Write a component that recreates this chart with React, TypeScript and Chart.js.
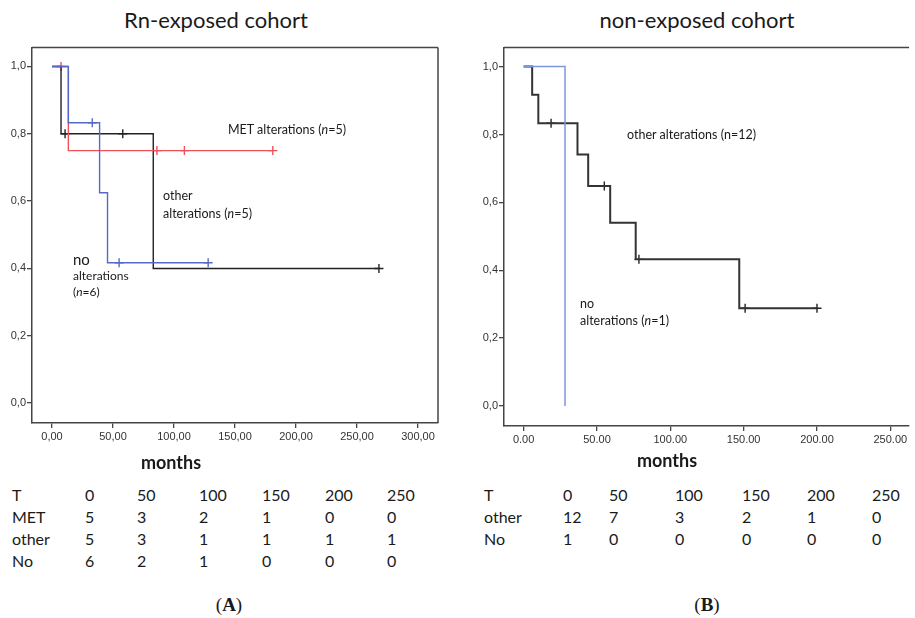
import React, { useEffect, useRef } from "react";
import { Chart, registerables } from "chart.js";
Chart.register(...registerables);

// ---------- Panel A: Rn-exposed cohort ----------
const aMetTimes = [0, 13.4, 181];
const aMetSurv = [1, 0.75, 0.75];
const aMetCensorTimes = [7.4, 86, 108.5, 181];
const aMetCensorSurv = [1, 0.75, 0.75, 0.75];

const aOtherTimes = [0, 7.4, 83, 268];
const aOtherSurv = [1, 0.8, 0.4, 0.4];
const aOtherCensorTimes = [10.7, 58, 268];
const aOtherCensorSurv = [0.8, 0.8, 0.4];

const aNoTimes = [0, 13.4, 39, 45.5, 128];
const aNoSurv = [1, 0.833, 0.625, 0.417, 0.417];
const aNoCensorTimes = [33, 55, 128];
const aNoCensorSurv = [0.833, 0.417, 0.417];

const aXTicks = [0, 50, 100, 150, 200, 250, 300];

// ---------- Panel B: non-exposed cohort ----------
const bOtherTimes = [0, 5.8, 10, 36.7, 44, 59, 76.4, 147, 200];
const bOtherSurv = [1, 0.917, 0.833, 0.741, 0.648, 0.54, 0.432, 0.288, 0.288];
const bOtherCensorTimes = [18.7, 55, 78.6, 151, 200];
const bOtherCensorSurv = [0.833, 0.648, 0.432, 0.288, 0.288];

const bNoTimes = [0, 28.2];
const bNoSurv = [1, 0];

const bXTicks = [0, 50, 100, 150, 200, 250];

const yTicks = [0, 0.2, 0.4, 0.6, 0.8, 1.0];

// ---------- Numbers at risk ----------
const riskTimes = ["0", "50", "100", "150", "200", "250"];
const aRiskMET = [5, 3, 2, 1, 0, 0];
const aRiskOther = [5, 3, 1, 1, 1, 1];
const aRiskNo = [6, 2, 1, 0, 0, 0];
const bRiskOther = [12, 7, 3, 2, 1, 0];
const bRiskNo = [1, 0, 0, 0, 0, 0];

const RED = "#f0505a";
const BLUE_A = "#5668c8";
const BLUE_B = "#7e96dc";
const BLACK = "#222222";
const AXIS = "#454545";

const toXY = (xs: number[], ys: number[]) => xs.map((x, i) => ({ x, y: ys[i] }));

const framePlugin = {
  id: "frame",
  afterDraw(chart: any, _args: any, opts: any) {
    const { ctx, chartArea: a } = chart;
    ctx.save();
    ctx.strokeStyle = opts.color || AXIS;
    ctx.lineWidth = opts.width || 1.5;
    ctx.beginPath();
    ctx.moveTo(a.left, a.top);
    ctx.lineTo(a.right, a.top);
    if (opts.right) {
      ctx.moveTo(a.right, a.top);
      ctx.lineTo(a.right, a.bottom);
    }
    ctx.stroke();
    ctx.restore();
  },
};

function stepDs(xs: number[], ys: number[], color: string, width: number) {
  return {
    type: "line",
    data: toXY(xs, ys),
    borderColor: color,
    borderWidth: width,
    stepped: "before",
    pointRadius: 0,
    fill: false,
  };
}
function censorDs(xs: number[], ys: number[], color: string) {
  return {
    type: "scatter",
    data: toXY(xs, ys),
    borderColor: color,
    backgroundColor: color,
    pointStyle: "cross",
    pointRadius: 4.5,
    borderWidth: 1.4,
    showLine: false,
  };
}

function makeConfig(p: {
  datasets: any[];
  xMin: number;
  xMax: number;
  xTicks: number[];
  decimal: string;
  yWidth: number;
  padding: any;
  right: boolean;
}) {
  const tickFont = { family: "'Liberation Sans', Arial, sans-serif", size: 11 };
  return {
    type: "line",
    data: { datasets: p.datasets },
    plugins: [framePlugin],
    options: {
      responsive: false,
      animation: false,
      events: [],
      layout: { padding: p.padding },
      plugins: {
        legend: { display: false },
        tooltip: { enabled: false },
        frame: { right: p.right, color: AXIS, width: 1.5 },
      },
      scales: {
        x: {
          type: "linear",
          min: p.xMin,
          max: p.xMax,
          afterBuildTicks: (s: any) => {
            s.ticks = p.xTicks.map((v) => ({ value: v }));
          },
          afterFit: (s: any) => {
            s.height = 30;
          },
          grid: {
            display: true,
            drawOnChartArea: false,
            drawTicks: true,
            tickLength: 5,
            color: AXIS,
            lineWidth: 1.3,
          },
          border: { display: true, color: AXIS, width: 1.5 },
          ticks: {
            autoSkip: false,
            maxRotation: 0,
            padding: 2,
            color: "#333",
            font: tickFont,
            callback: (v: any) => Number(v).toFixed(2).replace(".", p.decimal),
          },
        },
        y: {
          type: "linear",
          min: -0.059,
          max: 1.056,
          afterBuildTicks: (s: any) => {
            s.ticks = yTicks.map((v) => ({ value: v }));
          },
          afterFit: (s: any) => {
            s.width = p.yWidth;
          },
          grid: {
            display: true,
            drawOnChartArea: false,
            drawTicks: true,
            tickLength: 5,
            color: AXIS,
            lineWidth: 1.3,
          },
          border: { display: true, color: AXIS, width: 1.5 },
          ticks: {
            padding: 1,
            color: "#333",
            font: tickFont,
            callback: (v: any) => Number(v).toFixed(1).replace(".", ","),
          },
        },
      },
    },
  };
}

function ChartCanvas({ config, left, top, width, height }: any) {
  const ref = useRef<HTMLCanvasElement | null>(null);
  useEffect(() => {
    if (!ref.current) return;
    const c = new Chart(ref.current, config);
    return () => c.destroy();
  }, []);
  return (
    <canvas
      ref={ref}
      width={width}
      height={height}
      style={{ position: "absolute", left, top, width, height }}
    />
  );
}

const FONT = "Lato, 'Open Sans', sans-serif";

function Txt({ x, y, size, children, align = "left", weight = 400, family = FONT }: any) {
  const w = 400;
  const left = align === "center" ? x - w / 2 : x;
  return (
    <div
      style={{
        position: "absolute",
        left,
        top: y - size * 0.6,
        width: align === "center" ? w : undefined,
        textAlign: align,
        fontSize: size,
        lineHeight: `${size * 1.2}px`,
        fontFamily: family,
        fontWeight: weight,
        color: "#1a1a1a",
        whiteSpace: "nowrap",
      }}
    >
      {children}
    </div>
  );
}

function RiskTable({ labelX, colX, rows, y0 }: any) {
  const out: any[] = [];
  rows.forEach((r: any, ri: number) => {
    const y = y0 + ri * 22;
    out.push(
      <Txt key={`l${ri}`} x={labelX} y={y} size={16}>
        {r.label}
      </Txt>
    );
    r.values.forEach((v: any, ci: number) => {
      out.push(
        <Txt key={`c${ri}-${ci}`} x={colX[ci]} y={y} size={16}>
          {String(v)}
        </Txt>
      );
    });
  });
  return <>{out}</>;
}

export default function App() {
  const configA = makeConfig({
    datasets: [
      stepDs(aNoTimes, aNoSurv, BLUE_A, 1.4),
      stepDs(aMetTimes, aMetSurv, RED, 1.4),
      stepDs(aOtherTimes, aOtherSurv, BLACK, 1.4),
      censorDs(aNoCensorTimes, aNoCensorSurv, BLUE_A),
      censorDs(aMetCensorTimes, aMetCensorSurv, RED),
      censorDs(aOtherCensorTimes, aOtherCensorSurv, BLACK),
    ],
    xMin: -16.4,
    xMax: 316.4,
    xTicks: aXTicks,
    decimal: ",",
    yWidth: 32,
    padding: { top: 3, right: 12, bottom: 27, left: 0 },
    right: true,
  });

  const configB = makeConfig({
    datasets: [
      stepDs(bNoTimes, bNoSurv, BLUE_B, 1.5),
      stepDs(bOtherTimes, bOtherSurv, "#333", 2),
      censorDs(bOtherCensorTimes, bOtherCensorSurv, BLACK),
    ],
    xMin: -13.4,
    xMax: 262.8,
    xTicks: bXTicks,
    decimal: ".",
    yWidth: 44,
    padding: { top: 5, right: 0, bottom: 24, left: 0 },
    right: false,
  });

  return (
    <div
      style={{
        position: "absolute",
        left: 0,
        top: 0,
        width: 915,
        height: 618,
        overflow: "hidden",
        background: "#fff",
      }}
    >
      <ChartCanvas config={configA} left={0} top={40} width={450} height={440} />
      <ChartCanvas config={configB} left={460} top={40} width={455} height={440} />

      <Txt x={216} y={20} size={22} align="center">Rn-exposed cohort</Txt>
      <Txt x={697} y={20} size={22} align="center">non-exposed cohort</Txt>

      {/* Panel A annotations */}
      <Txt x={228} y={129} size={12.5}>
        MET alterations (<i>n</i>=5)
      </Txt>
      <Txt x={163} y={195} size={12.5}>other</Txt>
      <Txt x={163} y={213} size={12.5}>
        alterations (<i>n</i>=5)
      </Txt>
      <Txt x={73} y={259} size={15}>no</Txt>
      <Txt x={73} y={276} size={12}>alterations</Txt>
      <Txt x={73} y={292} size={12}>
        (<i>n</i>=6)
      </Txt>

      {/* Panel B annotations */}
      <Txt x={627} y={134} size={12.5}>other alterations (n=12)</Txt>
      <Txt x={580} y={303} size={12.5}>no</Txt>
      <Txt x={580} y={320} size={12.5}>
        alterations (<i>n</i>=1)
      </Txt>

      <Txt x={171} y={463} size={18} align="center" weight={700}>months</Txt>
      <Txt x={667} y={461} size={18} align="center" weight={700}>months</Txt>

      <RiskTable
        labelX={12}
        colX={[85, 137, 199, 262, 325, 387]}
        y0={495}
        rows={[
          { label: "T", values: riskTimes },
          { label: "MET", values: aRiskMET },
          { label: "other", values: aRiskOther },
          { label: "No", values: aRiskNo },
        ]}
      />
      <RiskTable
        labelX={484}
        colX={[563, 609, 675, 742, 807, 872]}
        y0={495}
        rows={[
          { label: "T", values: riskTimes },
          { label: "other", values: bRiskOther },
          { label: "No", values: bRiskNo },
        ]}
      />

      <Txt x={229} y={605} size={19} align="center" family="'Liberation Serif', 'DejaVu Serif', serif">
        (<b>A</b>)
      </Txt>
      <Txt x={707} y={605} size={19} align="center" family="'Liberation Serif', 'DejaVu Serif', serif">
        (<b>B</b>)
      </Txt>
    </div>
  );
}
